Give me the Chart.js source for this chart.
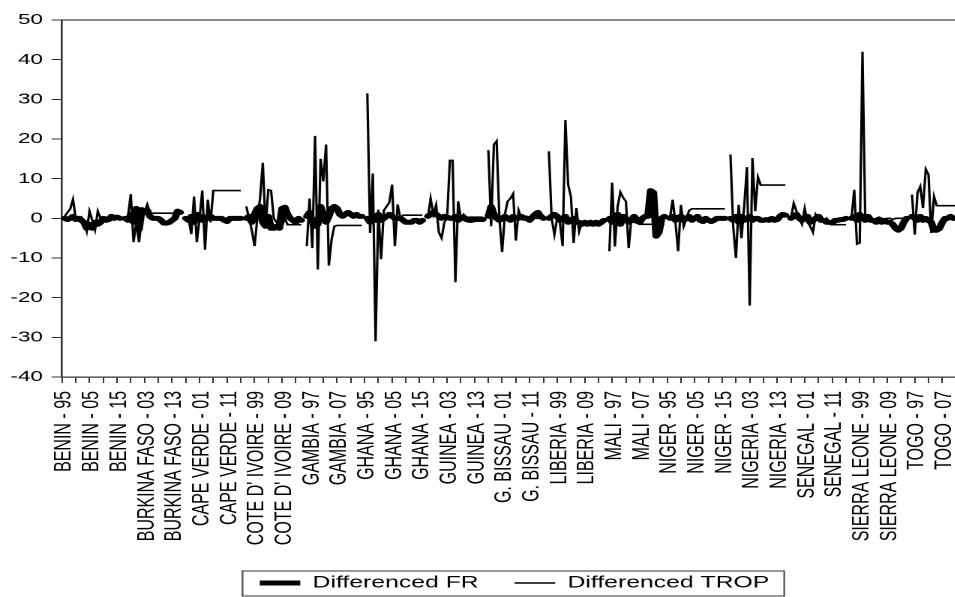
<!DOCTYPE html>
<html>
<head>
<meta charset="utf-8">
<script src="https://cdn.jsdelivr.net/npm/chart.js@4.4.1/dist/chart.umd.min.js"></script>
<style>
  html, body { margin: 0; padding: 0; background: #fff; width: 955px; height: 597px; overflow: hidden; }
  #wrap { position: absolute; left: 0; top: 0; width: 686px; height: 597px; transform: scaleX(1.5); transform-origin: 0 0; }
  canvas { display: block; }
</style>
</head>
<body>
<div id="wrap"><canvas id="c" width="686" height="597"></canvas></div>
<script>
// ---- categories ----
const COUNTRIES = ['BENIN', 'BURKINA FASO', 'CAPE VERDE', "COTE D' IVOIRE", 'GAMBIA', 'GHANA', 'GUINEA',
  'G. BISSAU', 'LIBERIA', 'MALI', 'NIGER', 'NIGERIA', 'SENEGAL', 'SIERRA LEONE', 'TOGO'];
const YEARS = ['95','96','97','98','99','00','01','02','03','04','05','06','07','08','09','10','11','12','13','14','15','16'];

// ---- Differenced FR (1996-2016, first year of each country is NA) ----
const FR_BENIN    = [0, -0.3, 0, 0.5, -0.3, 0, -0.5, -1, -2.5, -1.5, -2.5, -1, -1.5, -1, 0, -0.5, -0.3, 0.5, 0, 0.3, 0];
const FR_BURKINA  = [0, -0.5, 1, -1, 2.5, -2.8, 2.2, 1.5, 2, 0.5, 0, 0, 0, -0.5, -1.2, -1.2, -1, -0.5, 0, 1.8, 1.5];
const FR_CAPEV    = [0, -0.5, 0.5, -1, 1, 0.5, -0.5, 0.3, 0, 0.5, 0, 0, 0, 0, -0.5, -0.8, 0, 0, 0, 0, 0];
const FR_COTE     = [0, 0.5, -1, 1, 2.5, 3, -1, -2, 0.5, -2.5, -2.5, -2, -2.5, 2.5, 2.8, 1, 0, -0.5, -1, 0, -0.5];
const FR_GAMBIA   = [0.5, 1.5, -1, -2, -1.5, 3, 1, -1, 0.5, 2.5, 3, 2.5, 1, 0.5, 1, 1.5, 1, 0.5, 1, 0.5, 0.5];
const FR_GHANA    = [0, -1, 0.5, -0.5, 1, -0.5, 0, 0.5, 1, 0.5, 0, 0, 0, -0.5, -1, -1, -1, -0.5, -0.5, -1, -0.5];
const FR_GUINEA   = [0.5, 1, 1.5, 1, 0.5, 0, 0.5, 0.3, 0, 0, 0.5, -0.5, 0, 0.3, -0.3, -0.5, -0.5, -0.3, -0.3, -0.3, -0.3];
const FR_GBISSAU  = [0.5, 3, 1, 0, -0.5, 0, 0.5, 0, -0.5, 0.5, 0, 0, 0.5, 0, 0, -0.5, 0.3, 1, 1.5, 0.5, 0];
const FR_LIBERIA  = [0, 0.5, 1, 0.5, -0.5, 0, 0.5, -1, -0.5, 0, -1, -1, -1.5, -1, -1.5, -1, -1.5, -1, -1.5, -1, -0.5];
const FR_MALI     = [0, -1, 0.5, 1, -1.5, 0.5, 0, -1, -0.5, 0.5, -0.5, -1, 0, 0.5, 0.5, 7, 6.5, -4.5, -3.5, 0, 0.5];
const FR_NIGER    = [0, 0.5, -0.5, 0.3, 0.5, -0.5, 0, 0.5, -0.5, 0, 0.5, -0.5, -0.8, 0, -0.5, -0.8, -0.5, 0, 0, 0, 0];
const FR_NIGERIA  = [0, -0.5, 0.5, -1, 0.5, -0.5, 0, 0.5, -0.5, 0, 0, -0.5, -0.5, -0.3, -0.5, 0, -0.5, -0.3, 0.5, 1, 0.8];
const FR_SENEGAL  = [0, 0.5, 1, 0, -0.5, 0, 0.5, -1, -0.5, 0, 0.5, -0.5, -0.5, -1, -1, -1.2, -0.5, -0.5, -0.3, -0.3, 0];
const FR_SIERRA   = [0, 0.5, -0.5, 1, 0, -0.5, 0.5, -0.5, -0.5, -1, -0.5, -1, -0.5, -1, -1, -1.5, -2.5, -3, -2.5, -1, 0];
const FR_TOGO     = [0.5, 0, -0.5, 0.5, -0.5, 0, -0.5, -1, -3, -3, -2.5, -1, 0, 0, 0.5, 0, 0, 0, 0, 0, 0];

// ---- Differenced TROP (1996-2016) ----
const TROP_BENIN   = [0.5, 1.5, 2.4, 4.8, 0, -0.5, 0.3, -0.5, -3.2, 1.8, -0.5, -2.9, 1.8, 0, -0.3, 0.3, 0, -0.3, 0.5, 0, 0.2];
const TROP_BURKINA = [0, 0.5, 6.1, -6, -1, -6, 0, 1.5, 3.5, 1.3, 1.3, 1.3, 1.3, 1.3, 1.3, 1.3, 1.3, 1.3, 1.3, 1.3, 1.3];
const TROP_CAPEV   = [0, 0, -4, 5.5, -6, 0, 7, -7.9, 4.7, -1, 7, 7, 7, 7, 7, 7, 7, 7, 7, 7, 7];
const TROP_COTE    = [3, 0, -3, -7, 0, 5, 14, -2, 7.2, 7, 0, -1, 0, -2, 0, -1.6, -1.6, -1.6, -1.6, -1.6, -1.6];
const TROP_GAMBIA  = [-7, 5, -7.5, 20.8, -12.9, 15, 9.3, 18.6, -11.9, -5.4, -2, -1.8, -1.8, -1.8, -1.8, -1.8, -1.8, -1.8, -1.8, -1.8, -1.8];
const TROP_GHANA   = [31.5, -3.7, 11.3, -31, 2.2, -10.3, 2, 3, 4, 8.5, -7, 3.5, 0, 0.8, 0.8, 0.8, 0.8, 0.8, 0.8, 0.8, 0.8];
const TROP_GUINEA  = [0, 5, 1, 3.4, -3.5, -5, -1, 0, 14.6, 14.6, -16.1, 4.3, 0, 1, 0, 0.3, 0.3, 0.3, 0.3, 0.3, 0.3];
const TROP_GBISSAU = [17.2, -2, 18.6, 19.5, 0, -8.5, 1, 4.3, 5, 6.2, -5.6, 2, 0, 0.5, 0.5, 0, 0, 0, 0, 0, 0];
const TROP_LIBERIA = [16.9, 0, -4.1, 0, -1, -7, 24.8, 8.5, 5.5, -6.2, 2.6, -3.3, -1, -1, -1.2, -1.2, -1.3, -1.3, -1.3, -1.3, -1.3];
const TROP_MALI    = [-8.3, 9, -7.1, 3, 6.6, 5.2, 4.3, -7.5, 0, -1, -1.2, -1.5, -1.5, -1.5, -1.5, -1.5, -1.5, -1.5, -1.5, -1.5, -1.5];
const TROP_NIGER   = [0, 4.7, -1, -8.3, 3.4, -2, 0, 2, 2.4, 2.4, 2.4, 2.4, 2.4, 2.4, 2.4, 2.4, 2.4, 2.4, 2.4, 2.4, 2.4];
const TROP_NIGERIA = [16.1, -2, -10, 3.4, -5, 3, 12.9, -22, 15.2, 1.8, 10.4, 8.4, 8.4, 8.4, 8.4, 8.4, 8.4, 8.4, 8.4, 8.4, 8.4];
const TROP_SENEGAL = [0, 3.8, 1.8, 0, -1.5, 2.5, -1, -2, -3.5, 1, 0, 0.5, -1, 0, -1, -1.6, -1.6, -1.6, -1.6, -1.6, -1.6];
const TROP_SIERRA  = [0, 7.2, -6.5, -6.2, 42, 0, 0.5, 0, -0.3, 0, 0.3, 0, -0.5, 0, 0, -0.3, 0, 0, 0, 0, 0];
const TROP_TOGO    = [6, -4.1, 6.5, 8, 2.6, 12.4, 11, -3.7, 5.5, 3.2, 3.2, 3.2, 3.2, 3.2, 3.2, 3.2, 3.2, 3.2, 3.2, 3.2, 3.2];

const FR_BY_COUNTRY = [FR_BENIN, FR_BURKINA, FR_CAPEV, FR_COTE, FR_GAMBIA, FR_GHANA, FR_GUINEA, FR_GBISSAU,
  FR_LIBERIA, FR_MALI, FR_NIGER, FR_NIGERIA, FR_SENEGAL, FR_SIERRA, FR_TOGO];
const TROP_BY_COUNTRY = [TROP_BENIN, TROP_BURKINA, TROP_CAPEV, TROP_COTE, TROP_GAMBIA, TROP_GHANA, TROP_GUINEA, TROP_GBISSAU,
  TROP_LIBERIA, TROP_MALI, TROP_NIGER, TROP_NIGERIA, TROP_SENEGAL, TROP_SIERRA, TROP_TOGO];

// ---- y-axis ticks ----
const Y_MIN = -40, Y_MAX = 50, Y_STEP = 10;

// build labels & series (first year of each cross-section is NA after differencing)
const labels = [];
const frData = [];
const tropData = [];
COUNTRIES.forEach((c, ci) => {
  YEARS.forEach(y => labels.push(c + ' - ' + y));
  frData.push(null, ...FR_BY_COUNTRY[ci]);
  tropData.push(null, ...TROP_BY_COUNTRY[ci]);
});

const FONT = "'Liberation Sans', Arial, Helvetica, sans-serif";

const framePlugin = {
  id: 'frame',
  afterDraw(chart) {
    const { ctx, chartArea: a } = chart;
    ctx.save();
    ctx.strokeStyle = '#404040';
    ctx.lineWidth = 1.3;
    ctx.beginPath();
    ctx.moveTo(a.left, a.top);
    ctx.lineTo(a.right, a.top);
    ctx.lineTo(a.right, a.bottom);
    ctx.stroke();
    const lg = chart.legend;
    if (lg && lg.legendHitBoxes && lg.legendHitBoxes.length) {
      const hb = lg.legendHitBoxes;
      const last = hb[hb.length - 1];
      const x0 = hb[0].left - 11.5;
      const x1 = last.left + last.width + 10;
      const cy = hb[0].top + hb[0].height / 2;
      ctx.strokeStyle = '#555';
      ctx.lineWidth = 1.2;
      ctx.strokeRect(x0, cy - 12, x1 - x0, 25);
    }
    ctx.restore();
  }
};

new Chart(document.getElementById('c'), {
  type: 'line',
  data: {
    labels: labels,
    datasets: [
      { label: 'Differenced FR', data: frData, borderColor: '#000', backgroundColor: '#000', borderWidth: 5,
        borderJoinStyle: 'round', borderCapStyle: 'round', pointRadius: 0, tension: 0, spanGaps: false },
      { label: 'Differenced TROP', data: tropData, borderColor: '#000', backgroundColor: '#000', borderWidth: 1.6,
        borderJoinStyle: 'miter', pointRadius: 0, tension: 0, spanGaps: false }
    ]
  },
  options: {
    responsive: false,
    animation: false,
    devicePixelRatio: 2,
    layout: { padding: { top: 20, left: 0, right: 0, bottom: -4.25 } },
    plugins: {
      tooltip: { enabled: false },
      legend: {
        position: 'bottom',
        align: 'center',
        labels: {
          font: { family: FONT, size: 16.5 },
          color: '#000',
          boxWidth: 27,
          boxHeight: 0,
          padding: 24,
          generateLabels(chart) {
            return chart.data.datasets.map((ds, i) => ({
              text: ds.label, fillStyle: '#000', strokeStyle: '#000', lineWidth: ds.borderWidth,
              lineCap: 'butt', hidden: false, datasetIndex: i, fontColor: '#000'
            }));
          }
        }
      }
    },
    scales: {
      x: {
        type: 'category',
        offset: false,
        afterFit(s) { s.height = 173.75; },
        grid: {
          drawOnChartArea: false, drawTicks: true, tickLength: 6,
          color: ctx => (ctx.index % 5 === 0 ? '#333' : 'rgba(0,0,0,0)'),
          lineWidth: ctx => (ctx.index % 5 === 0 ? 1 : 0)
        },
        border: { display: true, color: '#333', width: 1.3 },
        ticks: {
          autoSkip: false, maxRotation: 90, minRotation: 90, padding: 8, labelOffset: 1.5,
          color: '#000', font: { family: FONT, size: 16 },
          callback: function (value, index) { return index % 10 === 0 ? this.getLabelForValue(value) : ''; }
        }
      },
      y: {
        min: Y_MIN, max: Y_MAX,
        afterFit(s) { s.width = 41.33; },
        grid: { drawOnChartArea: false, drawTicks: true, tickLength: 7, color: '#333', lineWidth: 1 },
        border: { display: true, color: '#333', width: 1.3 },
        ticks: { stepSize: Y_STEP, padding: 5.7, color: '#000', font: { family: FONT, size: 15 } }
      },
      y2: {
        position: 'right', display: true, min: Y_MIN, max: Y_MAX,
        afterFit(s) { s.width = 41.33; },
        grid: { display: false, drawTicks: false },
        border: { display: false },
        ticks: { display: false }
      }
    }
  },
  plugins: [framePlugin]
});
</script>
</body>
</html>
